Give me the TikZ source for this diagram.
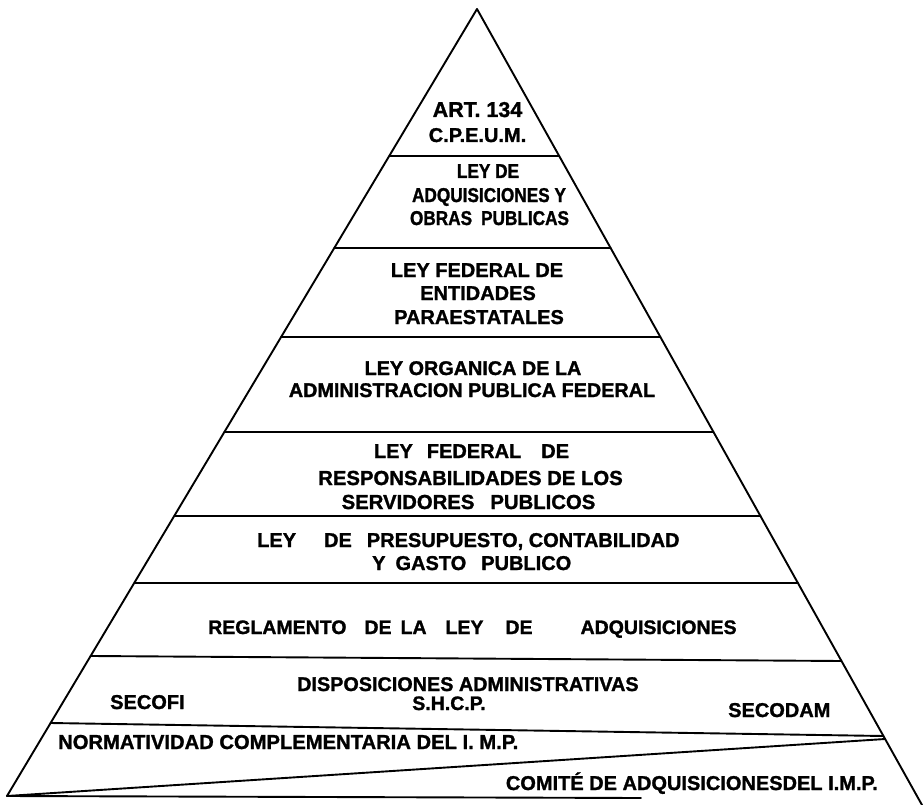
\documentclass[tikz,border=0pt]{standalone}
\usepackage{fontspec}
\setmainfont{Liberation Sans}[BoldFeatures={FakeBold=1.3}]
\newfontfamily\narrowsans{Liberation Sans}[FakeStretch=0.86, BoldFeatures={FakeBold=1.3}]
\usetikzlibrary{calc}
\begin{document}
\begin{tikzpicture}[x=1pt,y=-1pt,
  rule/.style={line width=1.9pt, line cap=round, line join=round},
  lbl/.style={font=\bfseries\fontsize{#1}{#1}\selectfont, inner sep=0pt, anchor=base},
  lbl/.default=20,
  nlbl/.style={font=\narrowsans\bfseries\fontsize{#1}{#1}\selectfont, inner sep=0pt, anchor=base},
  nlbl/.default=20]
\useasboundingbox (0,0) rectangle (923,805);

% outline of the pyramid
\coordinate (apex) at (477,9);
\coordinate (bl) at (7,796);
\coordinate (br) at (922,805);
\draw[rule] (bl) -- (apex) -- (br);

% horizontal tier boundaries
\foreach \y in {156,248,337,432,516,583}{
  \draw[rule] ($(apex)!{(\y-9)/787}!(bl)$) -- ($(apex)!{(\y-9)/796}!(br)$);
}
\draw[rule] ($(apex)!{647/787}!(bl)$) -- ($(apex)!{652/796}!(br)$);
\draw[rule] ($(apex)!{714/787}!(bl)$) -- ($(apex)!{727/796}!(br)$);
% split of the lowest tier and base line
\coordinate (diagR) at ($(apex)!{730/796}!(br)$);
\coordinate (baseR) at (641,798);
\draw[rule] (bl) -- (diagR);
\draw[rule] (bl) -- (baseR);

% tier 1
\node[lbl=21.5] (art) at (477.5,117) {ART. 134};
\node[lbl] (cpeum) at (477.5,142) {C.P.E.U.M.};
% tier 2
\node[nlbl] (leyA) at (488,178) {LEY DE};
\node[nlbl] (adqA) at (489,202) {ADQUISICIONES Y};
\node[nlbl] (obras) at (489.5,225) {OBRAS\hspace{9pt}PUBLICAS};
% tier 3
\node[lbl] (leyB) at (477,277) {LEY FEDERAL DE};
\node[lbl] (entid) at (478,300) {ENTIDADES};
\node[lbl] (parae) at (479,324) {PARAESTATALES};
% tier 4
\node[lbl=19.8] (leyC) at (473,375) {LEY ORGANICA DE LA};
\node[lbl=19.8] (admin) at (472,397) {ADMINISTRACION PUBLICA FEDERAL};
% tier 5
\node[lbl] (leyD) at (471.5,458) {LEY\hspace{14pt}FEDERAL\hspace{20pt}DE};
\node[lbl=20.3] (resp) at (470.5,485) {RESPONSABILIDADES DE LOS};
\node[lbl=20.3] (serv) at (468.5,509) {SERVIDORES\hspace{16pt}PUBLICOS};
% tier 6
\node[lbl, anchor=base west] (leyE) at (257,547) {LEY\hspace{28pt}DE\hspace{15pt}PRESUPUESTO, CONTABILIDAD};
\node[lbl, anchor=base west] (gasto) at (372,570) {Y\hspace{10pt}GASTO\hspace{15pt}PUBLICO};
% tier 7
\node[lbl=19.5, anchor=base west] (regl) at (208,634) {REGLAMENTO\hspace{18pt}DE\hspace{9pt}LA\hspace{19pt}LEY\hspace{22pt}DE\hspace{48pt}ADQUISICIONES};
% tier 8
\node[lbl=19.8, anchor=base west] (dispo) at (297,691) {DISPOSICIONES ADMINISTRATIVAS};
\node[lbl=19.5] (shcp) at (449,710) {S.H.C.P.};
\node[lbl, anchor=base west] (secofi) at (110,709) {SECOFI};
\node[lbl, anchor=base west] (secodam) at (728,717) {SECODAM};
% tier 9
\node[lbl=20.2, anchor=base west] (norma) at (58,749) {NORMATIVIDAD COMPLEMENTARIA DEL I. M.P.};
\node[lbl, anchor=base east] (comite) at (878,790) {COMITÉ DE ADQUISICIONESDEL I.M.P.};
\end{tikzpicture}
\end{document}
